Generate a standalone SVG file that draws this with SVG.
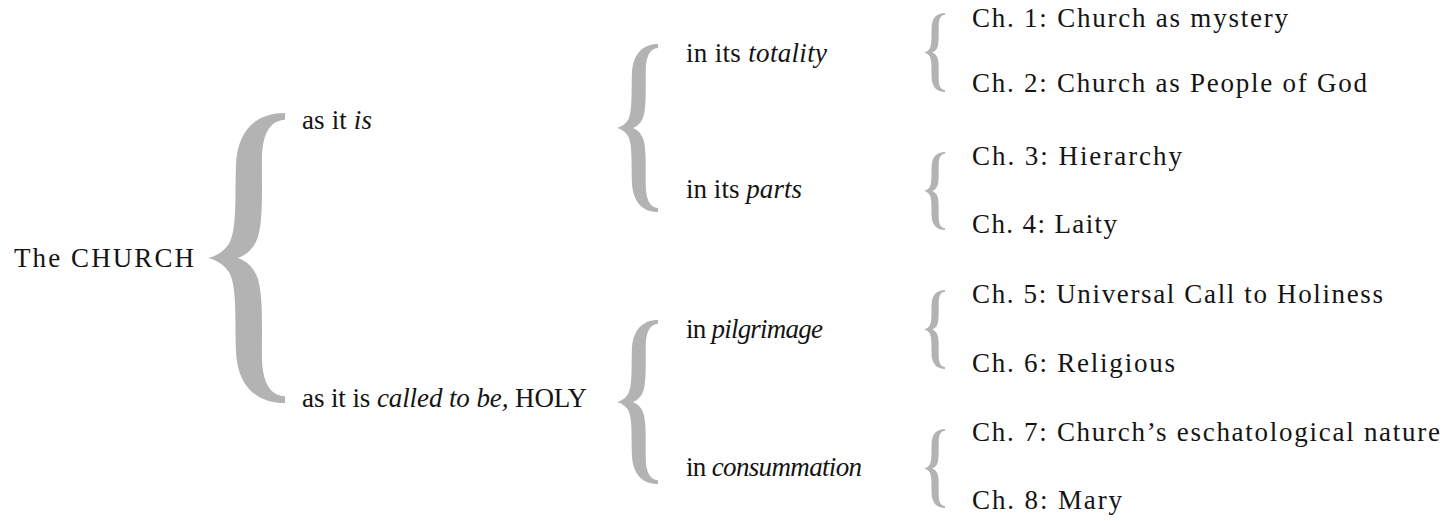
<svg xmlns="http://www.w3.org/2000/svg" width="1447" height="521" viewBox="0 0 1447 521">
<style>
text{font-family:"Liberation Serif","DejaVu Serif",serif;font-size:27px;fill:#141414}
.it{font-style:italic}
.brace{fill:#b3b3b3}
</style>
<defs>
<path id="brace" d="M80,0 C50,0 30,18 29,55 C28,90 30,120 22,135 C16,144 8,148 0,150 C8,152 16,156 22,165 C30,180 28,210 29,245 C30,282 50,300 80,300 L80,293 C64,292 56,278 56,250 C56,215 57,190 52,172 C48,160 40,153 31,150 C40,147 48,140 52,128 C57,110 56,85 56,50 C56,22 64,8 80,7 Z"/>
</defs>
<rect width="1447" height="521" fill="#ffffff"/>
<g id="connectors" class="brace">
<use href="#brace" transform="translate(208,113) scale(0.9625,0.967)"/>
<use href="#brace" transform="translate(617,44) scale(0.5125,0.56)"/>
<use href="#brace" transform="translate(617,320) scale(0.5125,0.547)"/>
<use href="#brace" transform="translate(924,13) scale(0.2625,0.263)"/>
<use href="#brace" transform="translate(924,152) scale(0.2625,0.26)"/>
<use href="#brace" transform="translate(924,290) scale(0.2625,0.263)"/>
<use href="#brace" transform="translate(924,429) scale(0.2625,0.263)"/>
</g>
<g font-family="Liberation Serif, DejaVu Serif, serif">
<g id="root"><text x="14" y="267" textLength="180" lengthAdjust="spacing">The CHURCH</text></g>
<g id="as-it-is"><text x="302" y="129" textLength="70" lengthAdjust="spacing">as it <tspan class="it">is</tspan></text></g>
<g id="called-to-be"><text x="302" y="407" textLength="285" lengthAdjust="spacing">as it is <tspan class="it">called to be,</tspan> HOLY</text></g>
<g id="totality"><text x="686" y="62" textLength="141" lengthAdjust="spacing">in its <tspan class="it">totality</tspan></text></g>
<g id="parts"><text x="686" y="198" textLength="116" lengthAdjust="spacing">in its <tspan class="it">parts</tspan></text></g>
<g id="pilgrimage"><text x="686" y="338" textLength="137" lengthAdjust="spacing">in <tspan class="it">pilgrimage</tspan></text></g>
<g id="consummation"><text x="686" y="476" textLength="176" lengthAdjust="spacing">in <tspan class="it">consummation</tspan></text></g>
<g id="ch1"><text x="972" y="27" textLength="316" lengthAdjust="spacing">Ch. 1: Church as mystery</text></g>
<g id="ch2"><text x="972" y="92" textLength="395" lengthAdjust="spacing">Ch. 2: Church as People of God</text></g>
<g id="ch3"><text x="972" y="165" textLength="210" lengthAdjust="spacing">Ch. 3: Hierarchy</text></g>
<g id="ch4"><text x="972" y="233" textLength="145" lengthAdjust="spacing">Ch. 4: Laity</text></g>
<g id="ch5"><text x="972" y="303" textLength="411" lengthAdjust="spacing">Ch. 5: Universal Call to Holiness</text></g>
<g id="ch6"><text x="972" y="372" textLength="203" lengthAdjust="spacing">Ch. 6: Religious</text></g>
<g id="ch7"><text x="972" y="441" textLength="468" lengthAdjust="spacing">Ch. 7: Church’s eschatological nature</text></g>
<g id="ch8"><text x="972" y="509" textLength="150" lengthAdjust="spacing">Ch. 8: Mary</text></g>
</g>
</svg>
